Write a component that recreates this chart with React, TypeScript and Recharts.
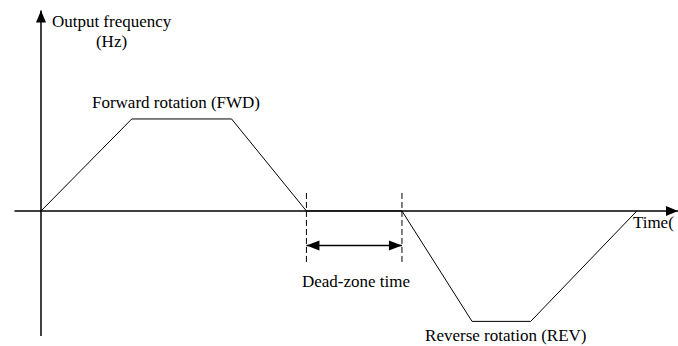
import React from "react";
import { LineChart, Line, XAxis, YAxis, ReferenceLine, ReferenceDot } from "recharts";

// Time (arbitrary units) and output frequency (Hz) of the profile
const times = [0, 3.42, 7.18, 10, 13.6, 16.24, 18.45, 22.45];
const freqs = [0, 50, 50, 0, 0, -60, -60, 0];

// Annotation texts and their anchor (start of baseline) in data units
const labelTexts = ["Output frequency", "(Hz)", "Forward rotation (FWD)", "Dead-zone time", "Reverse rotation (REV)", "Time("];
const labelTimes = [0.41, 2.07, 1.92, 9.83, 14.47, 22.3];
const labelFreqs = [100, 89.1, 56, -41.3, -70.6, -9.2];

const timeDomain = [0, 24];
const freqDomain = [-68, 109];
const deadArrowFreq = -18.8;
const deadDashTop = 9.8;
const deadDashBottom = -29.3;

const data = times.map((t, i) => ({ t, f: freqs[i] }));

const FONT = '"Liberation Serif", "Times New Roman", serif';

function arrowHead(x: number, y: number, dx: number, dy: number, len: number, half: number) {
  const n = Math.hypot(dx, dy) || 1;
  const ux = dx / n, uy = dy / n;
  const bx = x - ux * len, by = y - uy * len;
  const px = -uy, py = ux;
  return `${x},${y} ${bx + px * half},${by + py * half} ${bx - px * half},${by - py * half}`;
}

const AxisArrow = (p: any) => {
  const { x1, y1, x2, y2 } = p;
  const dx = x2 - x1, dy = y2 - y1;
  return (
    <g>
      <line x1={x1} y1={y1} x2={x2} y2={y2} stroke="#000" strokeWidth={1.5} />
      <polygon points={arrowHead(x2, y2, dx, dy, 12, 5)} fill="#000" />
    </g>
  );
};

const DoubleArrow = (p: any) => {
  const { x1, y1, x2, y2 } = p;
  const dx = x2 - x1, dy = y2 - y1;
  return (
    <g>
      <line x1={x1} y1={y1} x2={x2} y2={y2} stroke="#000" strokeWidth={1.5} />
      <polygon points={arrowHead(x2, y2, dx, dy, 13, 5)} fill="#000" />
      <polygon points={arrowHead(x1, y1, -dx, -dy, 13, 5)} fill="#000" />
    </g>
  );
};

const DashLine = (p: any) => {
  const { x1, y1, x2, y2 } = p;
  return <line x1={x1} y1={y1} x2={x2} y2={y2} stroke="#000" strokeWidth={1} strokeDasharray="6 3" />;
};

const makeText = (txt: string) => (p: any) => (
  <text x={p.cx} y={p.cy} fontFamily={FONT} fontSize={17} fill="#000" textAnchor="start">
    {txt}
  </text>
);

export default function App() {
  const deadStart = times[3];
  const deadEnd = times[4];
  return (
    <div style={{ position: "absolute", left: 0, top: 0, background: "#fff" }}>
      <LineChart width={678} height={346} data={data} margin={{ top: 10.4, right: 0, bottom: 9.9, left: 41 }}>
        <XAxis type="number" dataKey="t" domain={timeDomain} hide />
        <YAxis type="number" domain={freqDomain} hide />
        <ReferenceLine
          ifOverflow="visible"
          segment={[{ x: -1, y: 0 }, { x: timeDomain[1], y: 0 }]}
          shape={AxisArrow}
        />
        <ReferenceLine
          ifOverflow="visible"
          segment={[{ x: 0, y: freqDomain[0] }, { x: 0, y: freqDomain[1] }]}
          shape={AxisArrow}
        />
        {[deadStart, deadEnd].map((x, i) => (
          <ReferenceLine
            key={"d" + i}
            ifOverflow="visible"
            segment={[{ x, y: deadDashTop }, { x, y: deadDashBottom }]}
            shape={DashLine}
          />
        ))}
        <ReferenceLine
          ifOverflow="visible"
          segment={[{ x: deadStart, y: deadArrowFreq }, { x: deadEnd, y: deadArrowFreq }]}
          shape={DoubleArrow}
        />
        <Line
          type="linear"
          dataKey="f"
          stroke="#000"
          strokeWidth={1}
          dot={false}
          activeDot={false}
          isAnimationActive={false}
        />
        {labelTexts.map((txt, i) => (
          <ReferenceDot
            key={"l" + i}
            x={labelTimes[i]}
            y={labelFreqs[i]}
            r={0}
            ifOverflow="visible"
            shape={makeText(txt)}
          />
        ))}
      </LineChart>
    </div>
  );
}
